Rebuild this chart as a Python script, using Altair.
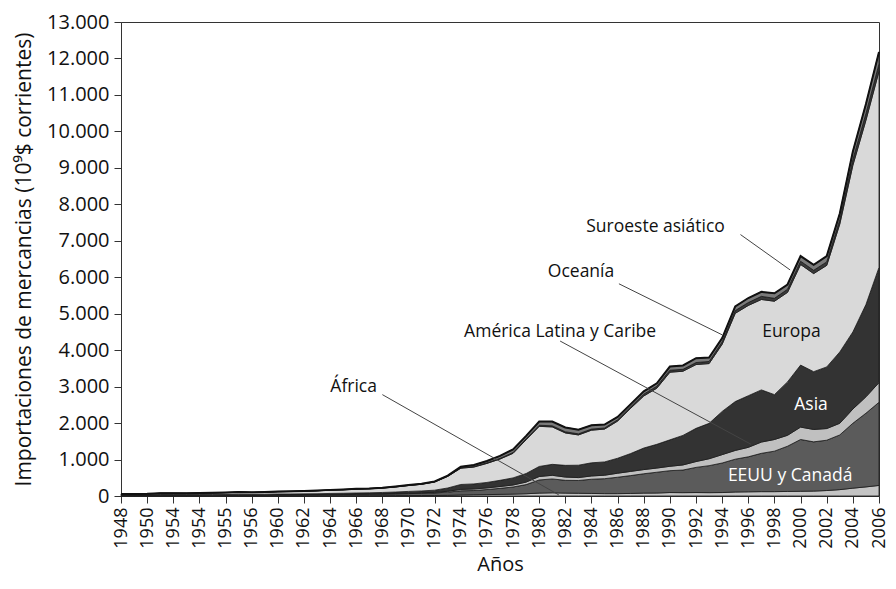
import altair as alt
import pandas as pd

years = list(range(1948, 2007))

africa = [5, 5, 5, 6, 6, 6, 6, 7, 7, 8, 8, 8, 8, 8, 8, 8, 9, 10, 10, 10, 10, 11, 12, 13, 14, 18, 28, 35, 38, 45,
          52, 62, 80, 88, 80, 75, 70, 65, 65, 70, 80, 82, 95, 92, 95, 92, 95, 110, 115, 120, 120, 125, 130, 135,
          150, 175, 215, 250, 290]
eeuu_canada = [12, 11, 12, 16, 16, 16, 16, 17, 19, 20, 19, 21, 22, 22, 24, 25, 28, 30, 35, 37, 43, 48, 54, 60, 70,
               88, 115, 115, 140, 165, 195, 250, 360, 380, 350, 350, 390, 410, 450, 490, 530, 570, 600, 620, 690,
               740, 810, 900, 960, 1050, 1110, 1240, 1420, 1350, 1380, 1500, 1780, 2020, 2280]
america_latina = [7, 7, 6, 8, 8, 8, 8, 8, 9, 10, 9, 8, 9, 9, 9, 9, 10, 10, 11, 11, 12, 13, 15, 16, 18, 24, 38, 42,
                  44, 50, 55, 70, 95, 100, 90, 80, 90, 95, 110, 115, 115, 115, 120, 140, 160, 190, 230, 240, 260,
                  310, 320, 300, 340, 340, 320, 320, 390, 450, 540]
asia = [8, 8, 8, 11, 10, 9, 10, 11, 12, 13, 12, 13, 16, 17, 18, 20, 23, 25, 27, 29, 32, 37, 45, 50, 58, 90, 135,
        140, 150, 170, 195, 235, 275, 300, 320, 340, 360, 365, 410, 490, 590, 650, 725, 810, 910, 970, 1185, 1340,
        1415, 1430, 1230, 1465, 1700, 1585, 1690, 1955, 2115, 2530, 3160]
europa = [22, 23, 24, 31, 32, 31, 34, 39, 44, 50, 47, 52, 62, 66, 71, 80, 89, 95, 104, 110, 120, 139, 161, 182,
          225, 318, 446, 462, 522, 584, 674, 926, 1100, 1027, 890, 830, 895, 900, 1020, 1242, 1428, 1540, 1855,
          1760, 1750, 1640, 1843, 2420, 2476, 2480, 2562, 2455, 2760, 2690, 2785, 3510, 4570, 5055, 5380]
oceania = [2, 2, 2, 3, 3, 3, 3, 3, 3, 3, 3, 3, 3, 3, 3, 3, 4, 4, 5, 5, 5, 5, 6, 6, 7, 10, 14, 14, 16, 18, 22, 25,
           30, 30, 32, 30, 30, 30, 35, 40, 50, 53, 55, 52, 55, 58, 65, 75, 80, 85, 80, 85, 90, 90, 95, 115, 160,
           185, 200]
suroeste = [2, 2, 3, 3, 3, 3, 3, 3, 4, 4, 4, 5, 5, 5, 5, 5, 5, 6, 6, 6, 6, 7, 7, 8, 8, 12, 24, 42, 50, 68, 87, 82,
            100, 115, 118, 115, 105, 95, 80, 73, 77, 80, 100, 106, 120, 110, 102, 115, 124, 125, 138, 130, 140, 150,
            160, 175, 220, 260, 330]

regions = ["África", "EEUU y Canadá", "América Latina y Caribe", "Asia", "Europa", "Oceanía", "Suroeste asiático"]
series = [africa, eeuu_canada, america_latina, asia, europa, oceania, suroeste]
fills = ["#c4c4c4", "#5b5b5b", "#c0c0c0", "#333333", "#d9d9d9", "#3a3a3a", "#7a7a7a"]

tick_years = list(range(1948, 2007, 2))
tick_labels = ["1948", "1950", "1954", "1954", "1955", "1956", "1960", "1962", "1964", "1966", "1968", "1970",
               "1972", "1974", "1976", "1978", "1980", "1982", "1984", "1986", "1988", "1990", "1992", "1994",
               "1996", "1998", "2000", "2002", "2004", "2006"]
y_ticks = list(range(0, 13001, 1000))

# annotation labels (text, year, value, colour)
ann_text = ["Suroeste asiático", "Oceanía", "América Latina y Caribe", "África", "Europa", "Asia", "EEUU y Canadá"]
ann_year = [1988.9, 1983.2, 1981.6, 1965.8, 1999.3, 2000.8, 1999.2]
ann_value = [7380, 6130, 4500, 3000, 4500, 2500, 550]
ann_color = ["#111111", "#111111", "#111111", "#111111", "#111111", "#ffffff", "#ffffff"]

# leader lines (start year, start value, end year, end value)
lead_x = [1995.4, 1986.1, 1981.6, 1968.0]
lead_y = [7170, 5820, 4250, 2780]
lead_x2 = [1999.2, 1994.0, 1996.2, 1981.5]
lead_y2 = [6200, 4420, 1420, 30]

rows = []
for k, (name, vals) in enumerate(zip(regions, series)):
    for yr, v in zip(years, vals):
        rows.append({"año": yr, "región": name, "valor": v, "orden": k})
df = pd.DataFrame(rows)

ann_df = pd.DataFrame({"texto": ann_text, "año": ann_year, "valor": ann_value, "color": ann_color})
lead_df = pd.DataFrame({"x": lead_x, "y": lead_y, "x2": lead_x2, "y2": lead_y2})

FONT = "Open Sans"
label_expr = "[" + ",".join("'" + t + "'" for t in tick_labels) + "][round((datum.value - 1948) / 2)]"

x_enc = alt.X("año:Q",
              scale=alt.Scale(domain=[1948, 2006], nice=False, zero=False),
              axis=alt.Axis(values=tick_years, tickCount=len(tick_years), labelExpr=label_expr, labelAngle=-90,
                            title="Años",
                            labelFontSize=18, titleFontSize=20, titleFontWeight="normal", labelColor="#111",
                            titleColor="#111", labelFont=FONT, titleFont=FONT, tickSize=7, tickColor="#333",
                            domainColor="#333", grid=False, titlePadding=6, labelPadding=4,
                            labelBaseline="middle", labelAlign="right", labelOverlap=False, labelFlush=False))
y_enc = alt.Y("valor:Q", stack="zero",
              scale=alt.Scale(domain=[0, 13000], nice=False),
              axis=alt.Axis(values=y_ticks, tickCount=len(y_ticks),
                            labelExpr="replace(format(datum.value, ','), ',', '.')",
                            title="Importaciones de mercancias (10⁹$ corrientes)",
                            labelFontSize=20, titleFontSize=21, titleFontWeight="normal", labelColor="#111",
                            titleColor="#111", labelFont=FONT, titleFont=FONT, tickSize=7, tickColor="#333",
                            domainColor="#333", grid=False, titlePadding=12, labelPadding=5,
                            labelOverlap=False, labelFlush=False))

areas = alt.Chart(df).mark_area(stroke="#1a1a1a", strokeWidth=0.8, interpolate="linear").encode(
    x=x_enc,
    y=y_enc,
    color=alt.Color("región:N", scale=alt.Scale(domain=regions, range=fills), legend=None),
    order=alt.Order("orden:Q", sort="ascending"),
)

top_line = alt.Chart(df).transform_aggregate(
    total="sum(valor)", groupby=["año"]
).mark_line(color="#111111", strokeWidth=2).encode(
    x="año:Q", y="total:Q"
)

leaders = alt.Chart(lead_df).mark_rule(color="#444444", strokeWidth=1).encode(
    x="x:Q", y="y:Q", x2="x2:Q", y2="y2:Q"
)

labels = alt.Chart(ann_df).mark_text(font=FONT, fontSize=17.5, align="center", baseline="middle").encode(
    x="año:Q", y="valor:Q", text="texto:N", color=alt.Color("color:N", scale=None)
)

chart = alt.layer(areas, top_line, leaders, labels).properties(
    width=758, height=474, padding={"left": 5, "top": 4, "right": 0, "bottom": 6}
).configure_view(stroke="#333333", strokeWidth=1)

chart.save("out.html", embed_options={"renderer": "svg", "actions": False})
